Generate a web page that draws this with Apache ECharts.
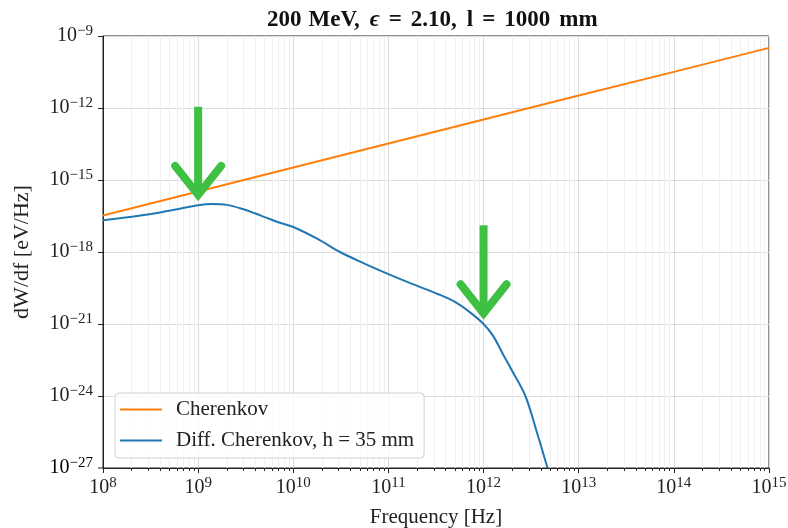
<!DOCTYPE html>
<html>
<head>
<meta charset="utf-8">
<script src="https://cdn.jsdelivr.net/npm/echarts@6/dist/echarts.min.js"></script>
<style>
html, body { margin: 0; padding: 0; background: #fff; }
#main { width: 788px; height: 528px; }
</style>
</head>
<body>
<div id="main"></div>
<script>
// Cherenkov (straight line on log-log)
var cherFreq = [1e8, 1e9, 1e10, 1e11, 1e12, 1e13, 1e14, 1e15];
var cherVal  = [3.3e-17, 3.3e-16, 3.3e-15, 3.3e-14, 3.3e-13, 3.3e-12, 3.2e-11, 3.2e-10];

// Diff. Cherenkov, h = 35 mm
var diffFreq = [1.0e8, 1.8e8, 3.2e8, 5.6e8, 1.0e9, 1.4e9, 2.0e9, 3.0e9, 4.0e9, 5.2e9,
                7.1e9, 1.0e10, 1.8e10, 3.1e10, 5.6e10, 1.0e11, 1.8e11, 3.4e11, 5.0e11, 7.1e11,
                1.0e12, 1.26e12, 1.6e12, 2.0e12, 2.75e12, 3.6e12, 4.7e12];
var diffVal  = [2.1e-17, 2.8e-17, 3.8e-17, 5.8e-17, 8.9e-17, 1.0e-16, 9.2e-17, 6.0e-17, 4.0e-17, 2.7e-17,
                1.7e-17, 1.1e-17, 3.5e-18, 1.0e-18, 3.3e-19, 1.2e-19, 4.6e-20, 1.7e-20, 8.3e-21, 3.2e-21,
                1.0e-21, 3.2e-22, 5.5e-23, 1.1e-23, 1.0e-24, 3.5e-26, 1.0e-27];

// tick labels (exponents of 10)
var xExp = [8, 9, 10, 11, 12, 13, 14, 15];
var yExp = [-27, -24, -21, -18, -15, -12, -9];

// green arrows: tip positions [freq, value]
var arrowTips = [[1e9, 1.8e-16], [1e12, 2.1e-21]];

var FONT = 'Liberation Serif';
var chart = echarts.init(document.getElementById('main'));

function expLabel(e) {
    return '{b|10}{s|' + String(e).replace('-', '\u2212') + '}';
}
var tickRich = {
    b: { fontFamily: FONT, fontSize: 20, color: '#222', lineHeight: 24 },
    s: { fontFamily: FONT, fontSize: 15, color: '#222', lineHeight: 12, verticalAlign: 'top' }
};

// title pieces with the gap that follows each one
var titleParts = [['200', 7], ['MeV,', 10], ['\u03f5', 9, true], ['=', 9], ['2.10,', 10],
                  ['l', 9], ['=', 9], ['1000', 9], ['mm', 0]];
var titleText = '', titleRich = {};
titleParts.forEach(function (p, i) {
    titleText += '{t' + i + '|' + p[0] + '}';
    titleRich['t' + i] = {
        fontFamily: FONT, fontSize: 23, fontWeight: 'bold', color: '#111',
        fontStyle: p[2] ? 'italic' : 'normal', lineHeight: 26, padding: [0, p[1], 0, 0]
    };
});

function pairs(xs, ys) {
    return xs.map(function (x, i) { return [x, ys[i]]; });
}

var option = {
    backgroundColor: '#fff',
    animation: false,
    title: {
        text: titleText,
        left: 267,
        top: 7,
        padding: 0,
        textStyle: { rich: titleRich }
    },
    grid: {
        left: 103, right: 19, top: 36, bottom: 60,
        outerBoundsMode: 'none',
        show: true, borderColor: '#222', borderWidth: 1
    },
    legend: {
        left: 115, top: 393,
        orient: 'vertical',
        data: ['Cherenkov', 'Diff. Cherenkov, h = 35 mm'],
        icon: 'rect',
        itemWidth: 42, itemHeight: 2, itemGap: 10,
        padding: [6, 10, 7, 5],
        backgroundColor: 'rgba(255,255,255,0.8)',
        borderColor: '#d0d0d0', borderWidth: 1, borderRadius: 4,
        textStyle: { fontFamily: FONT, fontSize: 21, lineHeight: 20, color: '#222', padding: [0, 0, 0, 9] }
    },
    xAxis: {
        type: 'log', logBase: 10,
        min: 1e8, max: 1e15,
        name: 'Frequency [Hz]', nameLocation: 'middle', nameGap: 39,
        nameTextStyle: { fontFamily: FONT, fontSize: 21, color: '#222' },
        axisLine: { lineStyle: { color: '#222', width: 1 } },
        axisTick: { length: 5, lineStyle: { color: '#222' } },
        minorTick: { show: true, splitNumber: 9, length: 3, lineStyle: { color: '#222' } },
        axisLabel: {
            margin: 8, rich: tickRich,
            formatter: function (v, i) { return expLabel(xExp[i]); }
        },
        splitLine: { show: true, lineStyle: { color: '#dcdcdc', width: 1 } },
        minorSplitLine: { show: true, lineStyle: { color: '#efefef', width: 1 } }
    },
    yAxis: {
        type: 'log', logBase: 10,
        min: 1e-27, max: 1e-9, interval: 3,
        name: 'dW/df [eV/Hz]', nameLocation: 'middle', nameGap: 70,
        nameMoveOverlap: false,
        nameTextStyle: { fontFamily: FONT, fontSize: 22, color: '#222' },
        axisLine: { show: true, lineStyle: { color: '#222', width: 1 } },
        axisTick: { show: true, length: 5, lineStyle: { color: '#222' } },
        axisLabel: {
            margin: 10, rich: tickRich, showMinLabel: true,
            formatter: function (v, i) { return expLabel(yExp[i]); }
        },
        splitLine: { show: true, lineStyle: { color: '#dcdcdc', width: 1 } }
    },
    series: [{
        name: 'Cherenkov',
        type: 'line',
        data: pairs(cherFreq, cherVal),
        symbol: 'none',
        lineStyle: { color: '#ff7f0e', width: 2 },
        itemStyle: { color: '#ff7f0e' },
        z: 5
    }, {
        name: 'Diff. Cherenkov, h = 35 mm',
        type: 'line',
        data: pairs(diffFreq, diffVal),
        symbol: 'none',
        smooth: 0.35,
        lineStyle: { color: '#1f77b4', width: 2 },
        itemStyle: { color: '#1f77b4' },
        z: 5
    }]
};
chart.setOption(option);

var extra = [];

// arrows placed from data coordinates
arrowTips.forEach(function (t) {
    var p = chart.convertToPixel({ xAxisIndex: 0, yAxisIndex: 0 }, t);
    var x = p[0], y = p[1];
    extra.push({
        type: 'polyline', z: 100,
        shape: { points: [[x, y - 91], [x, y - 6]] },
        style: { stroke: '#3ec043', lineWidth: 8, fill: null, lineCap: 'butt' }
    });
    extra.push({
        type: 'polyline', z: 100,
        shape: { points: [[x - 23, y - 32], [x, y - 3], [x + 23, y - 32]] },
        style: { stroke: '#3ec043', lineWidth: 8, fill: null, lineCap: 'round', lineJoin: 'miter' }
    });
});

// the lowest y tick can round to 0 on the log scale; label it from its data position
var yAx = chart.getModel().getComponent('yAxis', 0).axis;
var t0 = yAx.scale.getTicks()[0].value;
if (!isFinite(yAx.dataToCoord(t0))) {
    var p0 = chart.convertToPixel({ xAxisIndex: 0, yAxisIndex: 0 }, [cherFreq[0], Math.pow(10, yExp[0])]);
    extra.push({
        type: 'line', z: 50,
        shape: { x1: p0[0] - 5, y1: p0[1], x2: p0[0], y2: p0[1] },
        style: { stroke: '#222', lineWidth: 1 }
    });
    extra.push({
        type: 'text', z: 50, x: p0[0] - 10, y: p0[1],
        style: { text: expLabel(yExp[0]), rich: tickRich, align: 'right', verticalAlign: 'middle' }
    });
}
chart.setOption({ graphic: extra });
</script>
</body>
</html>
